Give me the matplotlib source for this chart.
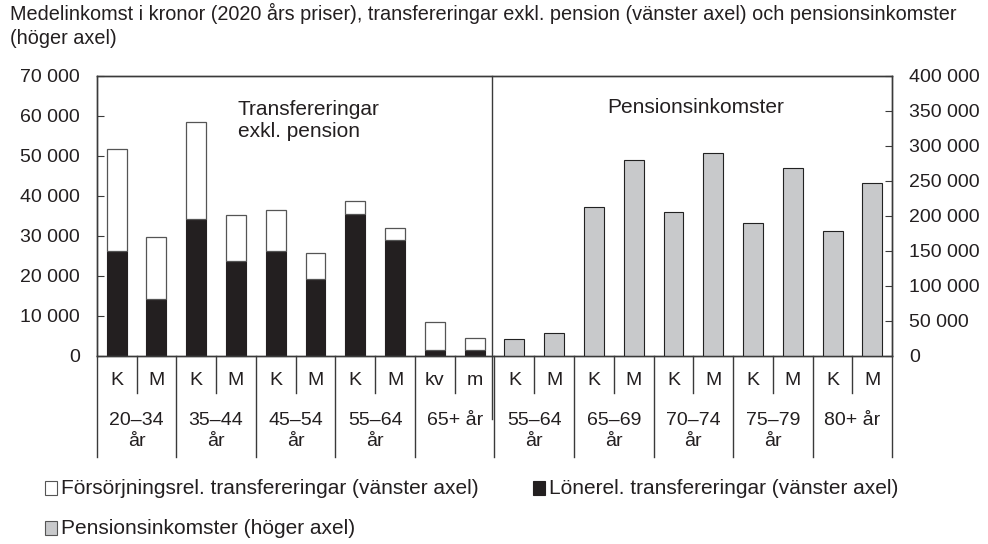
import matplotlib
matplotlib.use("Agg")
import matplotlib.pyplot as plt
import matplotlib.ticker as mticker
from matplotlib.patches import Rectangle

plt.rcParams["font.family"] = ["Liberation Sans", "DejaVu Sans"]

# transfers, left axis (kr)
sex_left = ["K", "M", "K", "M", "K", "M", "K", "M", "kv", "m"]
groups_left = ["20–34\når", "35–44\når", "45–54\når", "55–64\når", "65+ år"]
lonerel = [26250, 14200, 34250, 23600, 26250, 19200, 35400, 28850, 1400, 1400]
total_transfer = [51600, 29600, 58350, 35100, 36500, 25750, 38600, 31850, 8350, 4350]
forsorj = [t - l for t, l in zip(total_transfer, lonerel)]

# pensions, right axis (kr)
sex_right = ["K", "M", "K", "M", "K", "M", "K", "M", "K", "M"]
groups_right = ["55–64\når", "65–69\når", "70–74\når", "75–79\når", "80+ år"]
pension = [23400, 32000, 212900, 279600, 205300, 289100, 189100, 267700, 178600, 246300]

title = ("Medelinkomst i kronor (2020 års priser), transfereringar exkl. pension "
         "(vänster axel) och pensionsinkomster\n(höger axel)")
legend_labels = ["Försörjningsrel. transfereringar (vänster axel)",
                 "Lönerel. transfereringar (vänster axel)",
                 "Pensionsinkomster (höger axel)"]

TXT = "#231f20"
BLACK = "#231f20"
GRAY = "#c8c9cb"
LINE = "#3a3a3a"
FS = 14

W, H = 988, 544
fig = plt.figure(figsize=(W / 100, H / 100), dpi=100)
ax = fig.add_axes([0.0979, 0.3461, 0.8052, 0.5147])
ax2 = ax.twinx()

n_left = len(lonerel)
x_left = list(range(n_left))
x_right = [n_left + i for i in range(len(pension))]
w = 0.5

ax.bar(x_left, lonerel, width=w, color=BLACK, edgecolor=BLACK, linewidth=0.8)
ax.bar(x_left, forsorj, bottom=lonerel, width=w, color="white",
       edgecolor="#555555", linewidth=0.9)
ax2.bar(x_right, pension, width=w, color=GRAY, edgecolor="#222222", linewidth=0.8)

n_all = n_left + len(pension)
ax.set_xlim(-0.5, n_all - 0.5)
ax.set_ylim(0, 70000)
ax2.set_ylim(0, 400000)
ax.set_yticks(range(0, 70001, 10000))
ax2.set_yticks(range(0, 400001, 50000))
fmt = mticker.FuncFormatter(lambda v, p: f"{v:,.0f}".replace(",", " "))
ax.yaxis.set_major_formatter(fmt)
ax2.yaxis.set_major_formatter(fmt)
ax.set_xticks([])
ax.tick_params(axis="y", direction="in", length=5, color=LINE, labelsize=FS,
               labelcolor=TXT, pad=12)
ax2.tick_params(axis="y", direction="in", length=5, color=LINE, labelsize=FS,
                labelcolor=TXT, pad=12)
for a in (ax, ax2):
    for s in a.spines.values():
        s.set_color(LINE)
        s.set_linewidth(1.0)

tr = ax.get_xaxis_transform()

# divider between the two panels, runs a bit into the table
ax.plot([n_left - 0.57, n_left - 0.57], [1, -0.225], transform=tr, color=LINE,
        linewidth=1.0, clip_on=False)

ax.text(3.05, 0.84, "Transfereringar\nexkl. pension", transform=tr,
        ha="left", va="center", fontsize=15, color=TXT, linespacing=1.15)
ax.text(14.55, 0.885, "Pensionsinkomster", transform=tr,
        ha="center", va="center", fontsize=15, color=TXT)

# category table under the axis
sexes = sex_left + sex_right
groups = groups_left + groups_right
for i, s in enumerate(sexes):
    ax.text(i, -0.09, s, transform=tr, ha="center", va="center", fontsize=FS,
            color=TXT)
for i in range(n_all // 2):
    ax.plot([2 * i + 0.5, 2 * i + 0.5], [0, -0.133], transform=tr, color=LINE,
            linewidth=1.0, clip_on=False)
for i in range(n_all // 2 + 1):
    ax.plot([2 * i - 0.5, 2 * i - 0.5], [0, -0.362], transform=tr, color=LINE,
            linewidth=1.0, clip_on=False)
for i, g in enumerate(groups):
    ax.text(2 * i + 0.5, -0.2, g, transform=tr, ha="center", va="top",
            fontsize=FS, color=TXT, linespacing=1.3)

fig.text(0.010, 0.995, title, ha="left", va="top", fontsize=14.3, color=TXT,
         linespacing=1.35)

# legend drawn by hand: two items on the first row, one on the second
legend_items = [
    (legend_labels[0], "white", "#555555", 45, 488),
    (legend_labels[1], BLACK, BLACK, 533, 488),
    (legend_labels[2], GRAY, "#555555", 45, 528),
]
for label, fc, ec, xp, yp in legend_items:
    fig.patches.append(Rectangle((xp / W, 1 - (yp + 7) / H), 12 / W, 14 / H,
                                 transform=fig.transFigure, facecolor=fc,
                                 edgecolor=ec, linewidth=0.8))
    fig.text((xp + 16) / W, 1 - yp / H, label, ha="left", va="center",
             fontsize=15, color=TXT)

fig.savefig("out.png", dpi=100)
